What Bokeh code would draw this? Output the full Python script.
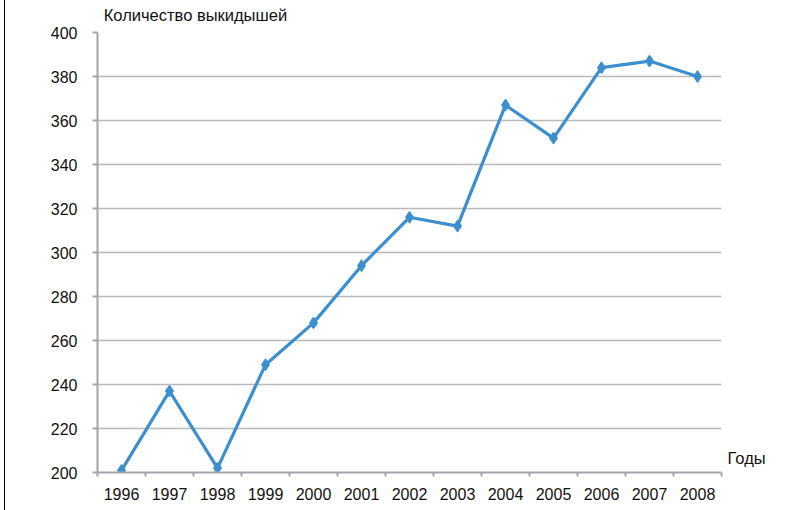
from bokeh.plotting import figure
from bokeh.models import Range1d, FixedTicker, LinearAxis, Div
from bokeh.layouts import row
from bokeh.embed import file_html
from bokeh.resources import INLINE

years = [1996, 1997, 1998, 1999, 2000, 2001, 2002, 2003, 2004, 2005, 2006, 2007, 2008]
counts = [201, 237, 202, 249, 268, 294, 316, 312, 367, 352, 384, 387, 380]
y_ticks = [200, 220, 240, 260, 280, 300, 320, 340, 360, 380, 400]
y_title = "Количество выкидышей"
x_title = "Годы"

FONT = "Liberation Sans"
LINE = "#3c8fcf"
AXIS = "#a3a6a9"
GRID = "#b9b9b9"
TXT = "#111111"

p = figure(width=804, height=510, output_backend="svg", toolbar_location=None,
           x_range=Range1d(years[0] - 0.5, years[-1] + 0.5),
           y_range=Range1d(200, 400),
           min_border_left=92, min_border_right=88, min_border_top=32, min_border_bottom=38,
           margin=0)
p.outline_line_color = None
p.background_fill_color = "white"
p.border_fill_color = "white"

# x axis: labels at years, small ticks between categories
xa = p.xaxis[0]
xa.ticker = FixedTicker(ticks=years, minor_ticks=[y - 0.5 for y in years] + [years[-1] + 0.5])
xa.major_tick_out = 0
xa.major_tick_in = 0
xa.minor_tick_out = 4
xa.minor_tick_in = 0
xa.minor_tick_line_color = AXIS
xa.minor_tick_line_width = 2
xa.axis_line_color = AXIS
xa.axis_line_width = 2
xa.major_label_text_font = FONT
xa.major_label_text_font_size = "16px"
xa.major_label_text_color = TXT
xa.major_label_standoff = 11

ya = p.yaxis[0]
ya.ticker = FixedTicker(ticks=y_ticks)
ya.major_tick_out = 5
ya.major_tick_in = 0
ya.major_tick_line_color = AXIS
ya.major_tick_line_width = 2
ya.minor_tick_line_color = None
ya.axis_line_color = AXIS
ya.axis_line_width = 2
ya.major_label_text_font = FONT
ya.major_label_text_font_size = "16px"
ya.major_label_text_color = TXT
ya.major_label_standoff = 15

# y-axis title above the plot (as a single-label top axis)
ty = 1997.54
top_ax = LinearAxis(ticker=FixedTicker(ticks=[ty]), major_label_overrides={ty: y_title},
                    axis_line_color=None, major_tick_line_color=None, minor_tick_line_color=None,
                    major_label_text_font=FONT, major_label_text_font_size="16.5px",
                    major_label_text_color=TXT, major_label_standoff=3)
p.add_layout(top_ax, "above")

# x-axis title to the right of the axis end (as a single-label right axis)
tx = 206.4
right_ax = LinearAxis(ticker=FixedTicker(ticks=[tx]), major_label_overrides={tx: x_title},
                      axis_line_color=None, major_tick_line_color=None, minor_tick_line_color=None,
                      major_tick_out=0, major_tick_in=0,
                      major_label_text_font=FONT, major_label_text_font_size="16.5px",
                      major_label_text_color=TXT, major_label_standoff=6)
p.add_layout(right_ax, "right")

p.xgrid.grid_line_color = None
p.ygrid.ticker = FixedTicker(ticks=y_ticks)
p.ygrid.grid_line_color = GRID
p.ygrid.grid_line_width = 1.5

p.line(years, counts, line_color=LINE, line_width=3.2)
p.scatter(years, counts, marker="diamond", size=12, fill_color=LINE, line_color=LINE)

edge = Div(text="", width=5, height=510, margin=0,
           styles={"border-right": "1.5px solid #000000", "box-sizing": "border-box", "height": "510px"})

layout = row(edge, p, spacing=0, margin=0)
open("out.html", "w").write(file_html(layout, INLINE))
